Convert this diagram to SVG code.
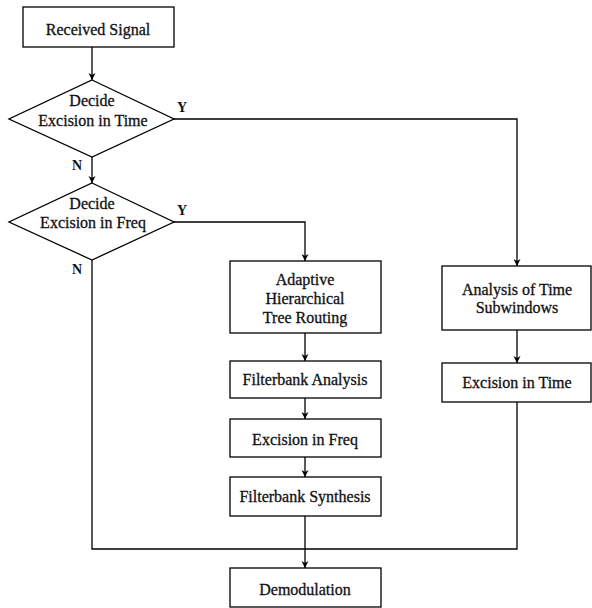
<svg xmlns="http://www.w3.org/2000/svg" width="592" height="608" viewBox="0 0 592 608">
<defs>
<marker id="arr" viewBox="0 0 10 10" refX="10" refY="5" markerWidth="7" markerHeight="9" orient="auto" markerUnits="userSpaceOnUse">
<path d="M0,0 L10,5 L0,10 L3,5 Z" fill="#000"/>
</marker>
<style>
.b{fill:#fff;stroke:#000;stroke-width:1.3}
.t{font-size:16px;fill:#111;text-anchor:middle;stroke:#111;stroke-width:0.3}
.l{font-size:14px;font-weight:bold;fill:#111}
.c{fill:none;stroke:#000;stroke-width:1.3}
</style>
</defs>
<rect width="592" height="608" fill="#fff"/>
<g font-family="'Liberation Serif', 'Times New Roman', serif">
<g id="connectors">
<path class="c" d="M92,47 V80" marker-end="url(#arr)"/>
<path class="c" d="M92,157 V183" marker-end="url(#arr)"/>
<path class="c" d="M174,119 H517 V266" marker-end="url(#arr)"/>
<path class="c" d="M174,222 H305 V261" marker-end="url(#arr)"/>
<path class="c" d="M305,333 V361" marker-end="url(#arr)"/>
<path class="c" d="M305,398 V419" marker-end="url(#arr)"/>
<path class="c" d="M305,457 V477" marker-end="url(#arr)"/>
<path class="c" d="M305,516 V568" marker-end="url(#arr)"/>
<path class="c" d="M517,330 V363" marker-end="url(#arr)"/>
<path class="c" d="M92,260 V549 H517 V402"/>
<text class="l" x="177" y="112">Y</text>
<text class="l" x="177" y="215">Y</text>
<text class="l" x="72" y="170">N</text>
<text class="l" x="72" y="274">N</text>
</g>
<g id="received">
<rect class="b" x="23" y="7" width="151" height="40"/>
<text class="t" x="98" y="35">Received Signal</text>
</g>
<g id="decide-time">
<polygon class="b" points="92,80 174,119 92,157 9,119"/>
<text class="t" x="92" y="106">Decide</text>
<text class="t" x="93" y="126">Excision in Time</text>
</g>
<g id="decide-freq">
<polygon class="b" points="92,183 174,222 92,260 9,222"/>
<text class="t" x="92" y="209">Decide</text>
<text class="t" x="93" y="228">Excision in Freq</text>
</g>
<g id="adaptive">
<rect class="b" x="230" y="261" width="151" height="72"/>
<text class="t" x="305" y="285">Adaptive</text>
<text class="t" x="305" y="304">Hierarchical</text>
<text class="t" x="305" y="323">Tree Routing</text>
</g>
<g id="fb-analysis">
<rect class="b" x="230" y="361" width="151" height="37"/>
<text class="t" x="305" y="385">Filterbank Analysis</text>
</g>
<g id="excision-freq">
<rect class="b" x="230" y="419" width="151" height="38"/>
<text class="t" x="305" y="445">Excision in Freq</text>
</g>
<g id="fb-synthesis">
<rect class="b" x="230" y="477" width="151" height="39"/>
<text class="t" x="305" y="502">Filterbank Synthesis</text>
</g>
<g id="demod">
<rect class="b" x="230" y="568" width="151" height="39"/>
<text class="t" x="305" y="595">Demodulation</text>
</g>
<g id="analysis-time">
<rect class="b" x="442" y="266" width="149" height="64"/>
<text class="t" x="517" y="295">Analysis of Time</text>
<text class="t" x="517" y="313">Subwindows</text>
</g>
<g id="excision-time">
<rect class="b" x="442" y="363" width="149" height="39"/>
<text class="t" x="517" y="388">Excision in Time</text>
</g>
</g>
</svg>
